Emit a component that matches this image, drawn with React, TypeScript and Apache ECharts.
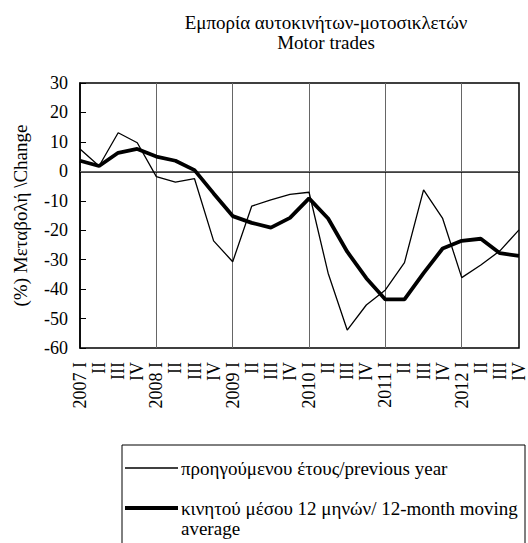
import React, { useEffect, useRef } from "react";
import * as echarts from "echarts";

const categories = [
  "2007 I", "II", "III", "IV",
  "2008 I", "II", "III", "IV",
  "2009 I", "II", "III", "IV",
  "2010 I", "II", "III", "IV",
  "2011 I", "II", "III", "IV",
  "2012 I", "II", "III", "IV",
];

const previousYear = [
  7.6, 1.8, 13.1, 9.7,
  -1.8, -3.7, -2.5, -23.6,
  -30.7, -11.8, -9.7, -7.8,
  -7.1, -34.6, -53.9, -45.4,
  -40.3, -31.0, -6.3, -16.0,
  -36.1, -31.8, -27.0, -19.9,
];

const movingAverage = [
  3.6, 1.8, 6.3, 7.6,
  5.0, 3.6, 0.4, -7.5,
  -15.2, -17.5, -19.1, -15.8,
  -9.2, -16.0, -27.3, -36.3,
  -43.5, -43.5, -34.6, -26.2,
  -23.6, -22.9, -27.8, -28.7,
];

const yTicks = { min: -60, max: 30, interval: 10 };

const titleMain = "Εμπορία αυτοκινήτων-μοτοσικλετών";
const titleSub = "Motor trades";
const yName = "(%) Μεταβολή \\Change";
const nameThin = "προηγούμενου έτους/previous year";
const nameThickLine1 = "κινητού μέσου 12 μηνών/ 12-month moving";
const nameThickLine2 = "average";

const FONT = "'Liberation Serif', 'Times New Roman', serif";

export default function App() {
  const ref = useRef<HTMLDivElement>(null);
  useEffect(() => {
    if (!ref.current) return;
    const chart = echarts.init(ref.current, null, { renderer: "svg" });
    const legendText = { fontFamily: FONT, fontSize: 19, fill: "#000" };
    chart.setOption({
      animation: false,
      backgroundColor: "#fff",
      textStyle: { fontFamily: FONT, color: "#000" },
      title: {
        text: titleMain,
        subtext: titleSub,
        left: 326,
        top: 12,
        textAlign: "center",
        itemGap: 0,
        padding: 0,
        textStyle: { fontFamily: FONT, fontSize: 19, lineHeight: 20, fontWeight: "normal", color: "#000" },
        subtextStyle: { fontFamily: FONT, fontSize: 19, lineHeight: 20, color: "#000" },
      },
      grid: {
        left: 80,
        top: 83,
        right: 4,
        bottom: 195,
        show: true,
        borderColor: "#000",
        borderWidth: 1.5,
        containLabel: false,
      },
      graphic: [
        {
          type: "rect",
          shape: { x: 122, y: 445, width: 403, height: 120 },
          style: { fill: "none", stroke: "#000", lineWidth: 1 },
          silent: true,
        },
        {
          type: "line",
          shape: { x1: 125, y1: 468, x2: 178, y2: 468 },
          style: { stroke: "#000", lineWidth: 1.5 },
          silent: true,
        },
        {
          type: "text",
          x: 181,
          y: 468,
          style: { ...legendText, text: nameThin, verticalAlign: "middle" },
          silent: true,
        },
        {
          type: "line",
          shape: { x1: 125, y1: 508, x2: 178, y2: 508 },
          style: { stroke: "#000", lineWidth: 3.8 },
          silent: true,
        },
        {
          type: "text",
          x: 181,
          y: 508,
          style: { ...legendText, text: nameThickLine1, verticalAlign: "middle" },
          silent: true,
        },
        {
          type: "text",
          x: 181,
          y: 528,
          style: { ...legendText, text: nameThickLine2, verticalAlign: "middle" },
          silent: true,
        },
      ],
      xAxis: {
        type: "category",
        data: categories,
        boundaryGap: false,
        axisLine: { show: true, lineStyle: { color: "#000", width: 1.5 } },
        axisTick: { show: false },
        axisLabel: {
          interval: 0,
          rotate: 90,
          margin: 14,
          fontFamily: FONT,
          fontSize: 18,
          color: "#000",
        },
        splitLine: {
          show: true,
          interval: (i: number) => i > 0 && i % 4 === 0,
          lineStyle: { color: "#666", width: 1 },
        },
      },
      yAxis: {
        type: "value",
        min: yTicks.min,
        max: yTicks.max,
        interval: yTicks.interval,
        name: yName,
        nameLocation: "middle",
        nameRotate: 90,
        nameGap: 50,
        nameTextStyle: { fontFamily: FONT, fontSize: 19, color: "#000" },
        axisLine: { show: true, lineStyle: { color: "#000", width: 1.5 } },
        axisTick: { show: true, inside: true, length: 6, lineStyle: { color: "#000" } },
        axisLabel: { margin: 12, fontFamily: FONT, fontSize: 18, color: "#000" },
        splitLine: { show: false },
      },
      series: [
        {
          name: nameThin,
          type: "line",
          data: previousYear,
          symbol: "none",
          lineStyle: { color: "#000", width: 1.3 },
          itemStyle: { color: "#000" },
          z: 3,
          markLine: {
            silent: true,
            symbol: "none",
            label: { show: false },
            lineStyle: { color: "#666", width: 1, type: "solid" },
            data: [{ yAxis: 0 }],
            z: 1,
          },
        },
        {
          name: nameThickLine1 + " " + nameThickLine2,
          type: "line",
          data: movingAverage,
          symbol: "none",
          lineStyle: { color: "#000", width: 3.8 },
          itemStyle: { color: "#000" },
          z: 4,
        },
      ],
    });
    return () => chart.dispose();
  }, []);
  return (
    <div
      ref={ref}
      style={{ position: "absolute", left: 0, top: 0, width: 528, height: 543 }}
    />
  );
}
